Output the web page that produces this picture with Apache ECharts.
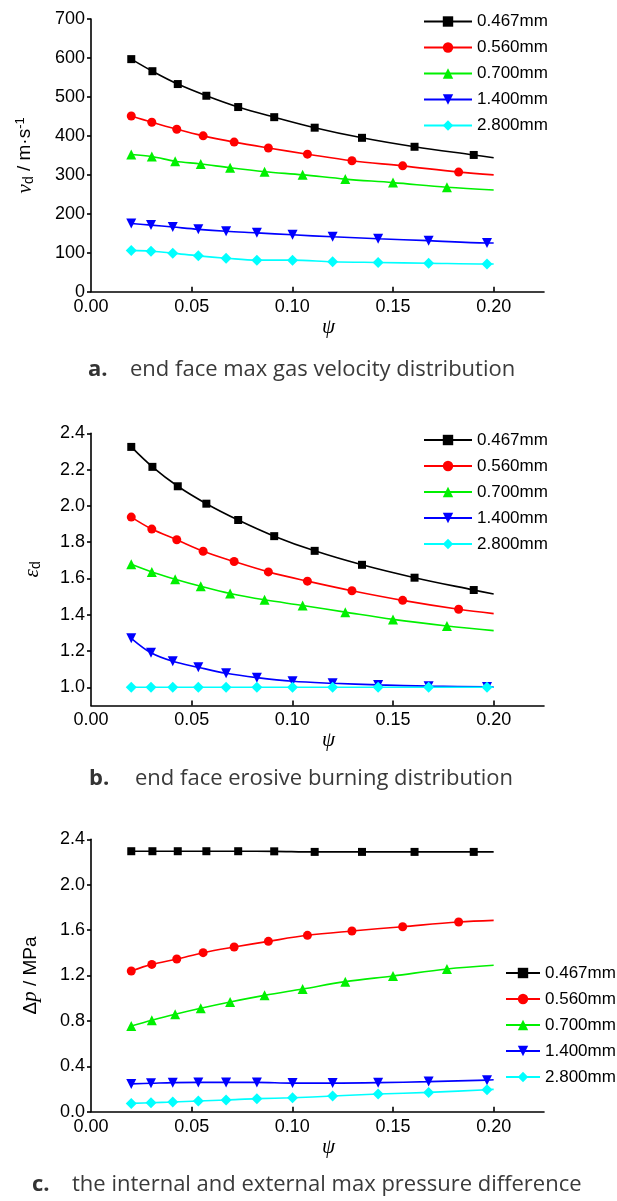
<!DOCTYPE html>
<html>
<head>
<meta charset="utf-8">
<script src="https://cdn.jsdelivr.net/npm/echarts@6/dist/echarts.min.js"></script>
<style>
html,body{margin:0;padding:0;background:#fff;}
#chart{width:617px;height:1201px;}
</style>
</head>
<body>
<div id="chart"></div>
<script>
// ---------- DATA ----------
const seriesNames = ['0.467mm', '0.560mm', '0.700mm', '1.400mm', '2.800mm'];
// psi positions (last value = line end, no marker)
const psi0467 = [0.020, 0.0305, 0.0431, 0.0573, 0.0731, 0.0910, 0.1111, 0.1346, 0.1607, 0.1901, 0.200];
const psi0560 = [0.020, 0.0302, 0.0426, 0.0557, 0.0711, 0.0881, 0.1075, 0.1296, 0.1548, 0.1826, 0.200];
const psi0700 = [0.020, 0.0302, 0.0418, 0.0545, 0.0691, 0.0862, 0.1051, 0.1263, 0.1500, 0.1768, 0.200];
const psi1400 = [0.020, 0.0298, 0.0406, 0.0533, 0.0671, 0.0824, 0.1001, 0.1200, 0.1426, 0.1677, 0.1967, 0.200];
const psi2800 = [0.020, 0.0298, 0.0406, 0.0533, 0.0671, 0.0824, 0.1001, 0.1200, 0.1426, 0.1677, 0.1967, 0.200];

// a. end face max gas velocity v_d (m/s)
const vd0467 = [597, 566, 533, 503, 474, 448, 421, 395, 372, 351, 344];
const vd0560 = [451, 435, 417, 400, 384, 369, 353, 336, 323, 307, 300];
const vd0700 = [352, 347, 335, 328, 318, 308, 300, 289, 280, 268, 261];
const vd1400 = [175, 171, 166, 160, 155, 151, 146, 141, 136, 131, 125, 125];
const vd2800 = [106, 104, 99, 92, 86, 81, 81, 77, 75, 73, 71, 71];

// b. end face erosive burning ratio eps_d
const ed0467 = [2.325, 2.215, 2.108, 2.012, 1.922, 1.833, 1.752, 1.675, 1.604, 1.536, 1.514];
const ed0560 = [1.938, 1.872, 1.813, 1.750, 1.693, 1.636, 1.585, 1.532, 1.479, 1.430, 1.406];
const ed0700 = [1.678, 1.636, 1.596, 1.557, 1.517, 1.482, 1.451, 1.414, 1.374, 1.338, 1.312];
const ed1400 = [1.270, 1.190, 1.143, 1.110, 1.077, 1.053, 1.033, 1.022, 1.013, 1.006, 1.002, 1.001];
const ed2800 = [1.0, 1.0, 1.0, 1.0, 1.0, 1.0, 1.0, 1.0, 1.0, 1.0, 1.0, 1.0];

// c. internal/external max pressure difference dp (MPa)
const dp0467 = [2.295, 2.295, 2.295, 2.295, 2.295, 2.294, 2.289, 2.289, 2.289, 2.289, 2.289];
const dp0560 = [1.240, 1.298, 1.345, 1.401, 1.451, 1.501, 1.554, 1.592, 1.630, 1.671, 1.686];
const dp0700 = [0.755, 0.805, 0.858, 0.911, 0.966, 1.025, 1.081, 1.146, 1.196, 1.257, 1.290];
const dp1400 = [0.245, 0.250, 0.256, 0.258, 0.258, 0.258, 0.252, 0.252, 0.256, 0.265, 0.278, 0.281];
const dp2800 = [0.073, 0.079, 0.085, 0.094, 0.103, 0.115, 0.123, 0.138, 0.156, 0.170, 0.194, 0.197];

const xTicks = [0, 0.05, 0.10, 0.15, 0.20];
const yTicksB = [1.0, 1.2, 1.4, 1.6, 1.8, 2.0, 2.2, 2.4];

// ---------- STYLE ----------
const colors = ['#000000', '#ff0000', '#00f000', '#0000ff', '#00ffff'];
const symbols = ['rect', 'circle', 'triangle', 'triangle', 'diamond'];
const symSizes = [8, 9, 10, 10, 11];
const symRot = [0, 0, 0, 180, 0];
const sans = "'Liberation Sans',Arial,sans-serif";
const capFont = "'Open Sans','Noto Sans',Lato,sans-serif";

const psiList = [psi0467, psi0560, psi0700, psi1400, psi2800];
const panels = [
  [vd0467, vd0560, vd0700, vd1400, vd2800],
  [ed0467, ed0560, ed0700, ed1400, ed2800],
  [dp0467, dp0560, dp0700, dp1400, dp2800]
];

function buildData(xs, ys) {
  return xs.map((x, i) => {
    const item = { value: [x, ys[i]] };
    if (i === xs.length - 1) { item.symbol = 'none'; }
    return item;
  });
}

const grids = [
  { left: 91, top: 19, width: 453, height: 272.7 },
  { left: 91, top: 433.3, width: 453, height: 272.1 },
  { left: 91, top: 839.3, width: 453, height: 272.4 }
];

const axisLineStyle = { color: '#000', width: 1.6 };

const xAxes = grids.map((g, i) => ({
  type: 'value', gridIndex: i, min: 0, max: 0.225,
  name: 'ψ', nameLocation: 'middle', nameGap: [24, 22, 24][i],
  nameTextStyle: { fontFamily: "'Liberation Serif','DejaVu Serif',serif", fontStyle: 'italic', fontSize: 21, color: '#000', padding: [0, 0, 0, 22] },
  axisLine: { show: true, lineStyle: axisLineStyle },
  axisTick: { show: true, inside: true, length: 5, lineStyle: axisLineStyle, customValues: xTicks.slice(1) },
  axisLabel: { color: '#000', fontFamily: sans, fontSize: 18, margin: 6, customValues: xTicks, formatter: v => v.toFixed(2) },
  splitLine: { show: false }
}));

const yNameRich = {
  i: { fontFamily: "'Liberation Serif','DejaVu Serif',serif", fontStyle: 'italic', fontSize: 21, color: '#000' },
  n: { fontFamily: sans, fontSize: 19, color: '#000' },
  sub: { fontFamily: sans, fontSize: 14, color: '#000', verticalAlign: 'bottom', lineHeight: 22, padding: [8, 0, 0, 0] },
  sup: { fontFamily: sans, fontSize: 13, color: '#000', verticalAlign: 'top', lineHeight: 22, padding: [0, 0, 10, 0] }
};

const yAxes = [
  {
    type: 'value', gridIndex: 0, min: 0, max: 700, interval: 100,
    name: '{i|v}{sub|d}{n| / m·s}{sup|-1}', nameLocation: 'middle', nameGap: 55, nameRotate: 90,
    nameTextStyle: { rich: yNameRich },
    axisLabel: { color: '#000', fontFamily: sans, fontSize: 18, margin: 6 }
  },
  {
    type: 'value', gridIndex: 1, min: 0.9, max: 2.4,
    name: '{i|ε}{sub|d}', nameLocation: 'middle', nameGap: 48, nameRotate: 90,
    nameTextStyle: { rich: yNameRich },
    axisLabel: { color: '#000', fontFamily: sans, fontSize: 18, margin: 6, customValues: yTicksB, formatter: v => v.toFixed(1) },
    axisTick: { customValues: yTicksB }
  },
  {
    type: 'value', gridIndex: 2, min: 0, max: 2.4, interval: 0.4,
    name: '{n|Δ}{i|p}{n| / MPa}', nameLocation: 'middle', nameGap: 50, nameRotate: 90,
    nameTextStyle: { rich: yNameRich },
    axisLabel: { color: '#000', fontFamily: sans, fontSize: 18, margin: 6, formatter: v => v.toFixed(1) }
  }
].map(a => Object.assign(a, {
  axisLine: { show: true, lineStyle: axisLineStyle },
  axisTick: Object.assign({ show: true, inside: false, length: 4, lineStyle: axisLineStyle }, a.axisTick || {}),
  splitLine: { show: false }
}));

const series = [];
panels.forEach((panel, p) => {
  panel.forEach((ys, s) => {
    series.push({
      type: 'line', name: seriesNames[s], xAxisIndex: p, yAxisIndex: p,
      data: buildData(psiList[s], ys),
      smooth: 0.35,
      symbol: symbols[s], symbolSize: symSizes[s], symbolRotate: symRot[s],
      showAllSymbol: true,
      color: colors[s],
      lineStyle: { color: colors[s], width: 1.6 },
      itemStyle: { color: colors[s] }
    });
  });
});

const legendBase = {
  orient: 'vertical', padding: 0, itemGap: 6, itemWidth: 48, itemHeight: 13,
  data: seriesNames,
  textStyle: { color: '#000', fontFamily: sans, fontSize: 17, lineHeight: 20 },
  selectedMode: false
};
const legends = [
  Object.assign({}, legendBase, { left: 423, top: 11.5 }),
  Object.assign({}, legendBase, { left: 423, top: 430 }),
  Object.assign({}, legendBase, { left: 505, top: 963, itemWidth: 34 })
];

function caption(label, text, left, top, labW) {
  return {
    left: left, top: top, padding: 0,
    text: '{b|' + label + '}{t|' + text + '}',
    textStyle: {
      rich: {
        b: { fontFamily: capFont, fontWeight: 'bold', fontSize: 22, color: '#333', width: labW },
        t: { fontFamily: capFont, fontWeight: 'normal', fontSize: 22, color: '#3a3a3a' }
      }
    }
  };
}

const option = {
  animation: false,
  backgroundColor: '#fff',
  title: [
    caption('a.', 'end face max gas velocity distribution', 88, 359, 42),
    caption('b.', 'end face erosive burning distribution', 89, 768, 46),
    caption('c.', 'the internal and external max pressure difference', 32, 1174, 40)
  ],
  grid: grids,
  xAxis: xAxes,
  yAxis: yAxes,
  legend: legends,
  series: series
};

const chart = echarts.init(document.getElementById('chart'), null, { renderer: 'canvas' });
chart.setOption(option);
</script>
</body>
</html>
